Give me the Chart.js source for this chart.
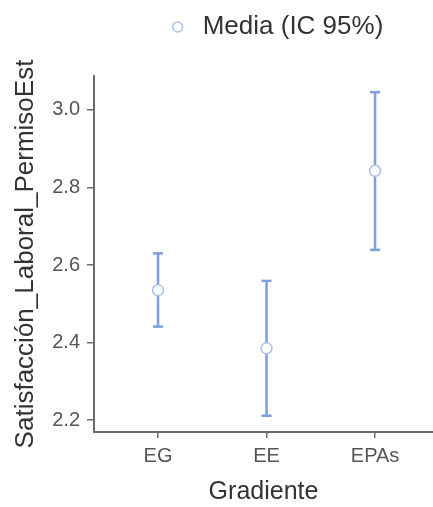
<!DOCTYPE html>
<html>
<head>
<meta charset="utf-8">
<script src="https://cdn.jsdelivr.net/npm/chart.js@4/dist/chart.umd.min.js"></script>
<style>
html,body{margin:0;padding:0;background:#ffffff;}
#wrap{width:433px;height:507px;}
canvas{display:block;}
</style>
</head>
<body>
<div id="wrap"><canvas id="c" width="433" height="507"></canvas></div>
<script>
// ---- data ----
const categories = ['EG', 'EE', 'EPAs'];
const means      = [2.535, 2.385, 2.843];
const lowerCI    = [2.441, 2.211, 2.639];
const upperCI    = [2.630, 2.559, 3.046];
const yTickValues = [2.2, 2.4, 2.6, 2.8, 3.0];
const seriesLabel = 'Media (IC 95%)';
const xTitle = 'Gradiente';
const yTitle = 'Satisfacción_Laboral_PermisoEst';

// ---- styling ----
const FONT = "'Liberation Sans', Arial, Helvetica, sans-serif";
const barColor = '#7d9fdb';
const markerBorder = '#a9c2ea';
const axisColor = '#6b6b6b';

const datasets = [{
  type: 'scatter',
  label: seriesLabel,
  data: categories.map((c, i) => ({x: i, y: means[i]})),
  pointStyle: 'circle',
  pointRadius: 5.5,
  pointHoverRadius: 5.5,
  pointBackgroundColor: '#ffffff',
  pointBorderColor: markerBorder,
  pointBorderWidth: 1.5,
  backgroundColor: '#ffffff',
  borderColor: markerBorder,
  showLine: false,
  order: 0
}];
categories.forEach((c, i) => {
  datasets.push({
    type: 'line',
    label: 'IC ' + c,
    data: [{x: i, y: lowerCI[i]}, {x: i, y: upperCI[i]}],
    borderColor: barColor,
    borderWidth: 2.5,
    pointStyle: 'line',
    pointRadius: 5,
    pointHoverRadius: 5,
    pointBorderColor: barColor,
    pointBorderWidth: 2.5,
    fill: false,
    order: 1
  });
});

const legendTweak = {
  id: 'legendTweak',
  beforeLayout(chart) {
    const lg = chart.legend;
    if (lg && !lg._patched) {
      const orig = lg.fit;
      lg.fit = function () { orig.call(this); this.height += 26; };
      lg._patched = true;
    }
  },
  afterLayout(chart) {
    const lg = chart.legend;
    if (lg) { lg.left = 116; }
  }
};

new Chart(document.getElementById('c'), {
  type: 'scatter',
  data: {datasets},
  plugins: [legendTweak],
  options: {
    responsive: false,
    animation: false,
    devicePixelRatio: 1,
    layout: {autoPadding: false, padding: {left: 0, right: 0, top: 0, bottom: 0}},
    plugins: {
      tooltip: {enabled: false},
      legend: {
        position: 'top',
        align: 'center',
        labels: {
          filter: (item) => item.text === seriesLabel,
          usePointStyle: true,
          boxWidth: 24,
          boxHeight: 7,
          padding: 14,
          color: '#333333',
          font: {family: FONT, size: 26}
        }
      }
    },
    scales: {
      x: {
        type: 'linear',
        min: -0.59,
        max: 2.534,
        afterBuildTicks: (s) => { s.ticks = categories.map((c, i) => ({value: i})); },
        afterFit: (s) => { s.height = 75; },
        ticks: {
          callback: (v) => categories[v],
          color: '#555555',
          font: {family: FONT, size: 20},
          padding: 6,
          maxRotation: 0,
          autoSkip: false
        },
        grid: {display: true, drawOnChartArea: false, drawTicks: true, tickLength: 6, color: axisColor, lineWidth: 1.5},
        border: {display: true, color: axisColor, width: 2},
        title: {display: true, text: xTitle, color: '#333333', font: {family: FONT, size: 25, lineHeight: 1.2}, padding: {top: 0, bottom: 0}}
      },
      y: {
        type: 'linear',
        min: 2.169,
        max: 3.0877,
        afterBuildTicks: (s) => { s.ticks = yTickValues.map(v => ({value: v})); },
        afterFit: (s) => { s.width = 94; },
        ticks: {
          callback: (v) => v.toFixed(1),
          color: '#555555',
          font: {family: FONT, size: 20},
          padding: 7
        },
        grid: {display: true, drawOnChartArea: false, drawTicks: true, tickLength: 7, color: axisColor, lineWidth: 1.5},
        border: {display: true, color: axisColor, width: 2},
        title: {display: true, text: yTitle, color: '#333333', font: {family: FONT, size: 26, lineHeight: 1.2}, padding: {top: 10, bottom: 0}}
      }
    }
  }
});
</script>
</body>
</html>
